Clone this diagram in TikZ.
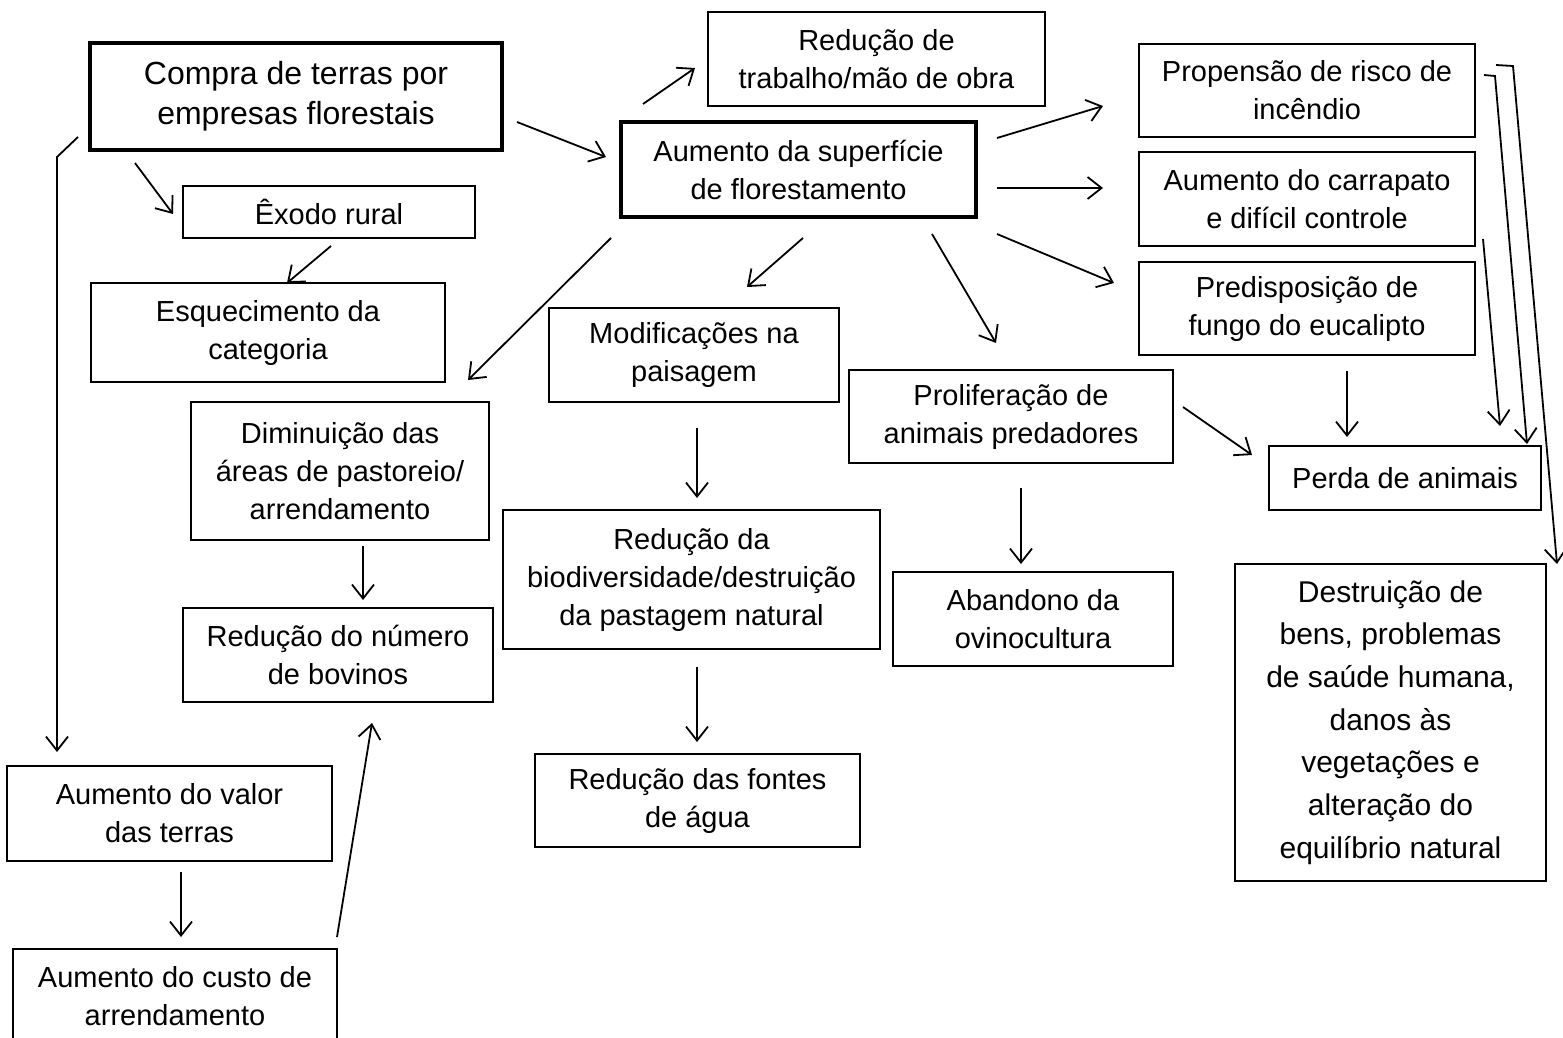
\documentclass[tikz,border=0pt]{standalone}
\usepackage{fontspec}
\setmainfont{Liberation Sans}
\usetikzlibrary{arrows.meta}
\tikzset{
  box/.style={draw, line width=1.6pt, inner sep=0pt, outer sep=0pt, align=center,
    font=\fontsize{29}{38}\selectfont},
  thickbox/.style={box, line width=4pt},
  bigtext/.style={font=\fontsize{32}{40}\selectfont},
  hugetext/.style={font=\fontsize{30}{42.7}\selectfont},
  arr/.style={line width=1.8pt, -{Straight Barb[length=14pt,width=22pt,line width=1.8pt]}},
}
\begin{document}
\begin{tikzpicture}[x=1pt,y=-1pt]
\useasboundingbox (0,0) rectangle (1563,1038);
\clip (0,0) rectangle (1563,1038);
\fill[white] (0,0) rectangle (1563,1038);

\node[thickbox,bigtext,minimum width=412,minimum height=107] (compra) at (296,96.5) {Compra de terras por\\empresas florestais};
\node[box,minimum width=337,minimum height=94] (trab) at (876.5,59) {Redução de\\trabalho/mão de obra};
\node[thickbox,minimum width=355,minimum height=95] (aum) at (798.5,169.5) {Aumento da superfície\\de florestamento};
\node[box,minimum width=336,minimum height=93] (prop) at (1307,90.5) {Propensão de risco de\\incêndio};
\node[box,minimum width=336,minimum height=94] (carr) at (1307,199) {Aumento do carrapato\\e difícil controle};
\node[box,minimum width=336,minimum height=93] (pred) at (1307,308.5) {Predisposição de\\fungo do eucalipto};
\node[box,minimum width=292,minimum height=52] (exodo) at (329,212) {Êxodo rural};
\node[box,minimum width=354,minimum height=99] (esq) at (268,332.5) {Esquecimento da\\categoria};
\node[box,minimum width=290,minimum height=94] (modif) at (694,355) {Modificações na\\paisagem};
\node[box,minimum width=324,minimum height=93] (prolif) at (1011,416.5) {Proliferação de\\animais predadores};
\node[box,minimum width=272,minimum height=64] (perda) at (1405,478) {Perda de animais};
\node[box,minimum width=298,minimum height=138] (dimin) at (340,471) {Diminuição das\\áreas de pastoreio/\\arrendamento};
\node[box,minimum width=377,minimum height=139] (biod) at (691.5,579.5) {Redução da\\biodiversidade/destruição\\da pastagem natural};
\node[box,minimum width=280,minimum height=94] (aband) at (1033,619) {Abandono da\\ovinocultura};
\node[box,minimum width=310,minimum height=94] (bov) at (338,655) {Redução do número\\de bovinos};
\node[box,hugetext,minimum width=311,minimum height=317] (destr) at (1390.5,722.5) {Destruição de\\bens, problemas\\de saúde humana,\\danos às\\vegetações e\\alteração do\\equilíbrio natural};
\node[box,minimum width=325,minimum height=95] (valor) at (169.5,813.5) {Aumento do valor\\das terras};
\node[box,minimum width=325,minimum height=93] (fontes) at (697.5,800.5) {Redução das fontes\\de água};
\node[box,minimum width=324,minimum height=94] (custo) at (175,996) {Aumento do custo de\\arrendamento};

% connectors
\draw[arr] ([shift={(427,79)}]compra.north west) -- ([shift={(-15,35)}]aum.north west);
\draw[arr] ([shift={(22,-18)}]aum.north west) -- ([shift={(-13,56)}]trab.north west);
\draw[arr] ([shift={(45,120)}]compra.north west) -- ([shift={(-10,28)}]exodo.north west);
\draw[arr] ([shift={(148,60)}]exodo.north west) -- ([shift={(196,0)}]esq.north west);
\draw[arr] ([shift={(-12,94)}]compra.north west) -- ([shift={(-33,114)}]compra.north west) -- ([shift={(50,-14)}]valor.north west);
\draw[arr] ([shift={(-10,116)}]aum.north west) -- ([shift={(277,-22)}]dimin.north west);
\draw[arr] ([shift={(182,116)}]aum.north west) -- ([shift={(198,-21)}]modif.north west);
\draw[arr] ([shift={(311,112)}]aum.north west) -- ([shift={(147,-27)}]prolif.north west);
\draw[arr] ([shift={(376,16)}]aum.north west) -- ([shift={(-36,62)}]prop.north west);
\draw[arr] ([shift={(376,66)}]aum.north west) -- ([shift={(-36,36)}]carr.north west);
\draw[arr] ([shift={(376,112)}]aum.north west) -- ([shift={(-25,21)}]pred.north west);
\draw[arr] ([shift={(148,120)}]modif.north west) -- ([shift={(194,-12)}]biod.north west);
\draw[arr] ([shift={(194,157)}]biod.north west) -- ([shift={(162,-12)}]fontes.north west);
\draw[arr] ([shift={(172,118)}]prolif.north west) -- ([shift={(128,-8)}]aband.north west);
\draw[arr] ([shift={(334,37)}]prolif.north west) -- ([shift={(-17,9)}]perda.north west);
\draw[arr] ([shift={(208,109)}]pred.north west) -- ([shift={(78,-9)}]perda.north west);
\draw[arr] ([shift={(344,87)}]carr.north west) -- ([shift={(231,-20)}]perda.north west);
\draw[arr] ([shift={(345,31)}]prop.north west) -- ([shift={(356,32)}]prop.north west) -- ([shift={(258,-2)}]perda.north west);
\draw[arr] ([shift={(357,21)}]prop.north west) -- ([shift={(374,22)}]prop.north west) -- ([shift={(322,0)}]destr.north west);
\draw[arr] ([shift={(172,144)}]dimin.north west) -- ([shift={(180,-8)}]bov.north west);
\draw[arr] ([shift={(174,106)}]valor.north west) -- ([shift={(168,-12)}]custo.north west);
\draw[arr] ([shift={(324,-12)}]custo.north west) -- ([shift={(189,115)}]bov.north west);
\end{tikzpicture}
\end{document}
